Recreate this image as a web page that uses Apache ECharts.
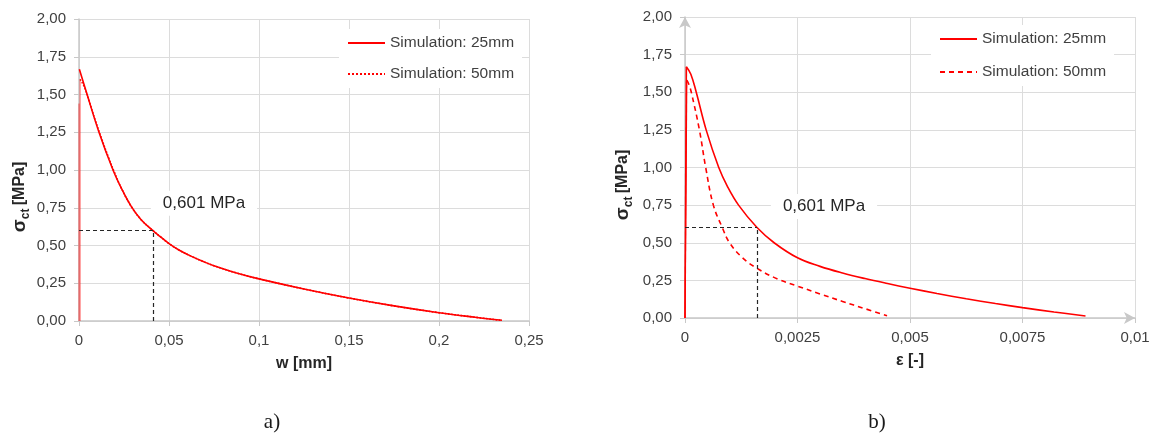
<!DOCTYPE html>
<html>
<head>
<meta charset="utf-8">
<script src="https://cdn.jsdelivr.net/npm/echarts@6/dist/echarts.min.js"></script>
<style>
html,body{margin:0;padding:0;background:#fff;}
#main{width:1156px;height:434px;}
</style>
</head>
<body>
<div id="main"></div>
<script>
// ---------- DATA ----------
// Chart a): crack opening w [mm] vs stress [MPa]
const wA25 = [0.0002, 0.0043, 0.011, 0.0189, 0.0235, 0.0291, 0.0345, 0.0406, 0.045, 0.0504, 0.056, 0.0625, 0.069, 0.075, 0.0875, 0.1, 0.125, 0.15, 0.175, 0.2, 0.22, 0.235];
const sA25 = [1.667, 1.508, 1.254, 1.00, 0.88, 0.757, 0.671, 0.604, 0.560, 0.509, 0.467, 0.428, 0.394, 0.366, 0.318, 0.279, 0.212, 0.152, 0.10, 0.055, 0.025, 0.005];
const wA50 = [0.0006, 0.003, 0.0058, 0.009, 0.0125, 0.0165, 0.0195, 0.0235, 0.0291, 0.0345, 0.0406, 0.045, 0.0504, 0.056, 0.0625, 0.069, 0.075, 0.0875, 0.1, 0.125, 0.15, 0.175, 0.2, 0.22, 0.234];
const sA50 = [1.60, 1.55, 1.45, 1.33, 1.21, 1.08, 0.99, 0.88, 0.757, 0.671, 0.604, 0.560, 0.509, 0.467, 0.428, 0.394, 0.366, 0.318, 0.279, 0.212, 0.152, 0.10, 0.055, 0.025, 0.005];
const riseA25 = [[0, 0], [0, 1.44]];
const riseA50 = [[0.0006, 0], [0.0006, 1.60]];

// Chart b): strain eps [-] vs stress [MPa]
const eB25 = [0.00003, 0.00013, 0.00025, 0.00047, 0.00075, 0.00095, 0.00119, 0.0016, 0.00198, 0.0025, 0.003, 0.0035, 0.004, 0.0045, 0.005, 0.0056, 0.00625, 0.0069, 0.0075, 0.0082, 0.0089];
const sB25 = [1.67, 1.62, 1.50, 1.25, 1.00, 0.87, 0.75, 0.601, 0.50, 0.40, 0.343, 0.299, 0.262, 0.229, 0.198, 0.163, 0.128, 0.096, 0.069, 0.040, 0.013];
const eB50 = [0.00004, 0.00009, 0.00014, 0.00032, 0.00046, 0.00063, 0.00083, 0.00099, 0.00128, 0.0016, 0.00206, 0.0025, 0.003, 0.0035, 0.004, 0.00449];
const sB50 = [1.58, 1.55, 1.50, 1.25, 1.00, 0.75, 0.60, 0.50, 0.40, 0.33, 0.259, 0.212, 0.16, 0.11, 0.062, 0.015];
const riseB25 = [[0, 0], [0.00003, 1.67]];
const riseB50 = [[0, 0], [0.00004, 1.58]];

// Reference point (0,601 MPa)
const refA = [0.0411, 0.601];
const refB = [0.0016, 0.601];
const refLabel = '0,601 MPa';

// Tick labels
const xTicksA = ['0', '0,05', '0,1', '0,15', '0,2', '0,25'];
const xTicksB = ['0', '0,0025', '0,005', '0,0075', '0,01'];
const yTicks = ['0,00', '0,25', '0,50', '0,75', '1,00', '1,25', '1,50', '1,75', '2,00'];

const legendNames = { a25: 'Simulation: 25mm', a50: 'Simulation: 50mm', b25: 'Simulation: 25mm', b50: 'Simulation: 50mm' };
const xNameA = 'w [mm]';
const xNameB = 'ε [-]';
const panelA = 'a)';
const panelB = 'b)';

// ---------- CHART ----------
const zip = (xs, ys) => xs.map((x, i) => [x, ys[i]]);
const RED = '#ff0000';
const FONT = '"Liberation Sans", Arial, sans-serif';
const TXT = '#404040';

function xAxis(grid, max, interval, ticks, name, arrow) {
  return {
    type: 'value', gridIndex: grid, min: 0, max: max, interval: interval,
    name: name, nameLocation: 'middle', nameGap: 35,
    nameTextStyle: { fontFamily: FONT, fontSize: 16, fontWeight: 'bold', color: '#262626' },
    axisLine: { show: true, onZero: false, lineStyle: { color: '#c8c8c8', width: 1.5 },
      symbol: arrow ? ['none', 'arrow'] : ['none', 'none'], symbolSize: [9, 11], symbolOffset: [0, 0] },
    axisTick: { show: true, length: 5, lineStyle: { color: '#c8c8c8' } },
    axisLabel: { fontFamily: FONT, fontSize: 15, color: TXT, margin: 12,
      formatter: v => ticks[Math.round(v / interval)] },
    splitLine: { show: true, lineStyle: { color: '#dcdcdc', width: 1 } }
  };
}
function yAxis(grid, arrow) {
  return {
    type: 'value', gridIndex: grid, min: 0, max: 2, interval: 0.25,
    axisLine: { show: true, onZero: false, lineStyle: { color: '#c8c8c8', width: 1.5 },
      symbol: arrow ? ['none', 'arrow'] : ['none', 'none'], symbolSize: [9, 11] },
    axisTick: { show: true, length: 5, lineStyle: { color: '#c8c8c8' } },
    axisLabel: { fontFamily: FONT, fontSize: 15, color: TXT, margin: 13,
      formatter: v => yTicks[Math.round(v / 0.25)] },
    splitLine: { show: true, lineStyle: { color: '#dcdcdc', width: 1 } }
  };
}
function refMarks(ref, offset) {
  return {
    markLine: {
      silent: true, symbol: ['none', 'none'], animation: false,
      lineStyle: { color: '#262626', type: [4, 3], width: 1.2 },
      label: { show: false },
      data: [
        [{ coord: [0, ref[1]] }, { coord: [ref[0], ref[1]] }],
        [{ coord: [ref[0], 0] }, { coord: [ref[0], ref[1]] }]
      ]
    },
    markPoint: {
      silent: true, symbol: 'circle', symbolSize: 0, animation: false,
      label: { show: true, formatter: refLabel, offset: offset, fontFamily: FONT, fontSize: 17,
        color: '#262626', backgroundColor: '#ffffff', padding: [4, 12] },
      data: [{ coord: ref }]
    }
  };
}
function line(name, xi, yi, data, type, width, extra) {
  return Object.assign({
    name: name, type: 'line', xAxisIndex: xi, yAxisIndex: yi, data: data,
    showSymbol: false, symbol: 'none', smooth: 0.4, animation: false,
    lineStyle: { color: RED, width: width, type: type }, itemStyle: { color: RED }, z: 3
  }, extra || {});
}
const riseStyle = (name, xi, data, w, op) => ({
  name: name, type: 'line', xAxisIndex: xi, yAxisIndex: xi, data: data, showSymbol: false, symbol: 'none',
  animation: false, lineStyle: { color: RED, width: w, opacity: op }, z: 3
});

const legendCommon = {
  orient: 'vertical', padding: [6, 8], itemWidth: 37, itemHeight: 14, backgroundColor: '#ffffff',
  itemStyle: { opacity: 0, borderWidth: 0 },
  formatter: n => legendNames[n], textStyle: { fontFamily: FONT, fontSize: 15.5, color: TXT }
};

const chart = echarts.init(document.getElementById('main'));
chart.setOption({
  backgroundColor: '#ffffff',
  animation: false,
  grid: [
    { left: 79, top: 19, width: 450, height: 302 },
    { left: 685, top: 17, width: 450, height: 301 }
  ],
  xAxis: [
    xAxis(0, 0.25, 0.05, xTicksA, xNameA, false),
    xAxis(1, 0.01, 0.0025, xTicksB, xNameB, true)
  ],
  yAxis: [yAxis(0, false), yAxis(1, true)],
  legend: [
    Object.assign({ data: ['a25', 'a50'], left: 339, top: 29, itemGap: 15 }, legendCommon),
    Object.assign({ data: ['b25', 'b50'], left: 931, top: 25, itemGap: 17 }, legendCommon)
  ],
  series: [
    riseStyle('a25rise', 0, riseA25, 1, 0.6),
    riseStyle('a50rise', 0, riseA50, 1, 0.6),
    line('a25', 0, 0, zip(wA25, sA25), 'solid', 1.6, refMarks(refA, [51, -27])),
    line('a50', 0, 0, zip(wA50, sA50), 'dotted', 1.6),
    riseStyle('b25rise', 1, riseB25, 1.6, 1),
    riseStyle('b50rise', 1, riseB50, 1.2, 1),
    line('b25', 1, 1, zip(eB25, sB25), 'solid', 1.6, refMarks(refB, [67, -21])),
    line('b50', 1, 1, zip(eB50, sB50), [5, 4], 1.6)
  ],
  graphic: [
    { type: 'text', x: 20, y: 197, rotation: Math.PI / 2,
      style: { text: '{s|σ}{c|ct} {b|[MPa]}', align: 'center', verticalAlign: 'middle',
        rich: {
          s: { fontFamily: FONT, fontSize: 19, fontWeight: 'bold', fill: '#262626', lineHeight: 24, verticalAlign: 'middle' },
          c: { fontFamily: FONT, fontSize: 12, fontWeight: 'bold', fill: '#262626', lineHeight: 24, verticalAlign: 'bottom' },
          b: { fontFamily: FONT, fontSize: 16, fontWeight: 'bold', fill: '#262626', lineHeight: 24, verticalAlign: 'middle' }
        } } },
    { type: 'text', x: 623, y: 185, rotation: Math.PI / 2,
      style: { text: '{s|σ}{c|ct} {b|[MPa]}', align: 'center', verticalAlign: 'middle',
        rich: {
          s: { fontFamily: FONT, fontSize: 19, fontWeight: 'bold', fill: '#262626', lineHeight: 24, verticalAlign: 'middle' },
          c: { fontFamily: FONT, fontSize: 12, fontWeight: 'bold', fill: '#262626', lineHeight: 24, verticalAlign: 'bottom' },
          b: { fontFamily: FONT, fontSize: 16, fontWeight: 'bold', fill: '#262626', lineHeight: 24, verticalAlign: 'middle' }
        } } },
    { type: 'text', x: 272, y: 422,
      style: { text: panelA, fontFamily: '"Liberation Serif", "DejaVu Serif", serif', fontSize: 21, fill: '#1a1a1a', align: 'center', verticalAlign: 'middle' } },
    { type: 'text', x: 877, y: 422,
      style: { text: panelB, fontFamily: '"Liberation Serif", "DejaVu Serif", serif', fontSize: 21, fill: '#1a1a1a', align: 'center', verticalAlign: 'middle' } }
  ]
});
</script>
</body>
</html>
